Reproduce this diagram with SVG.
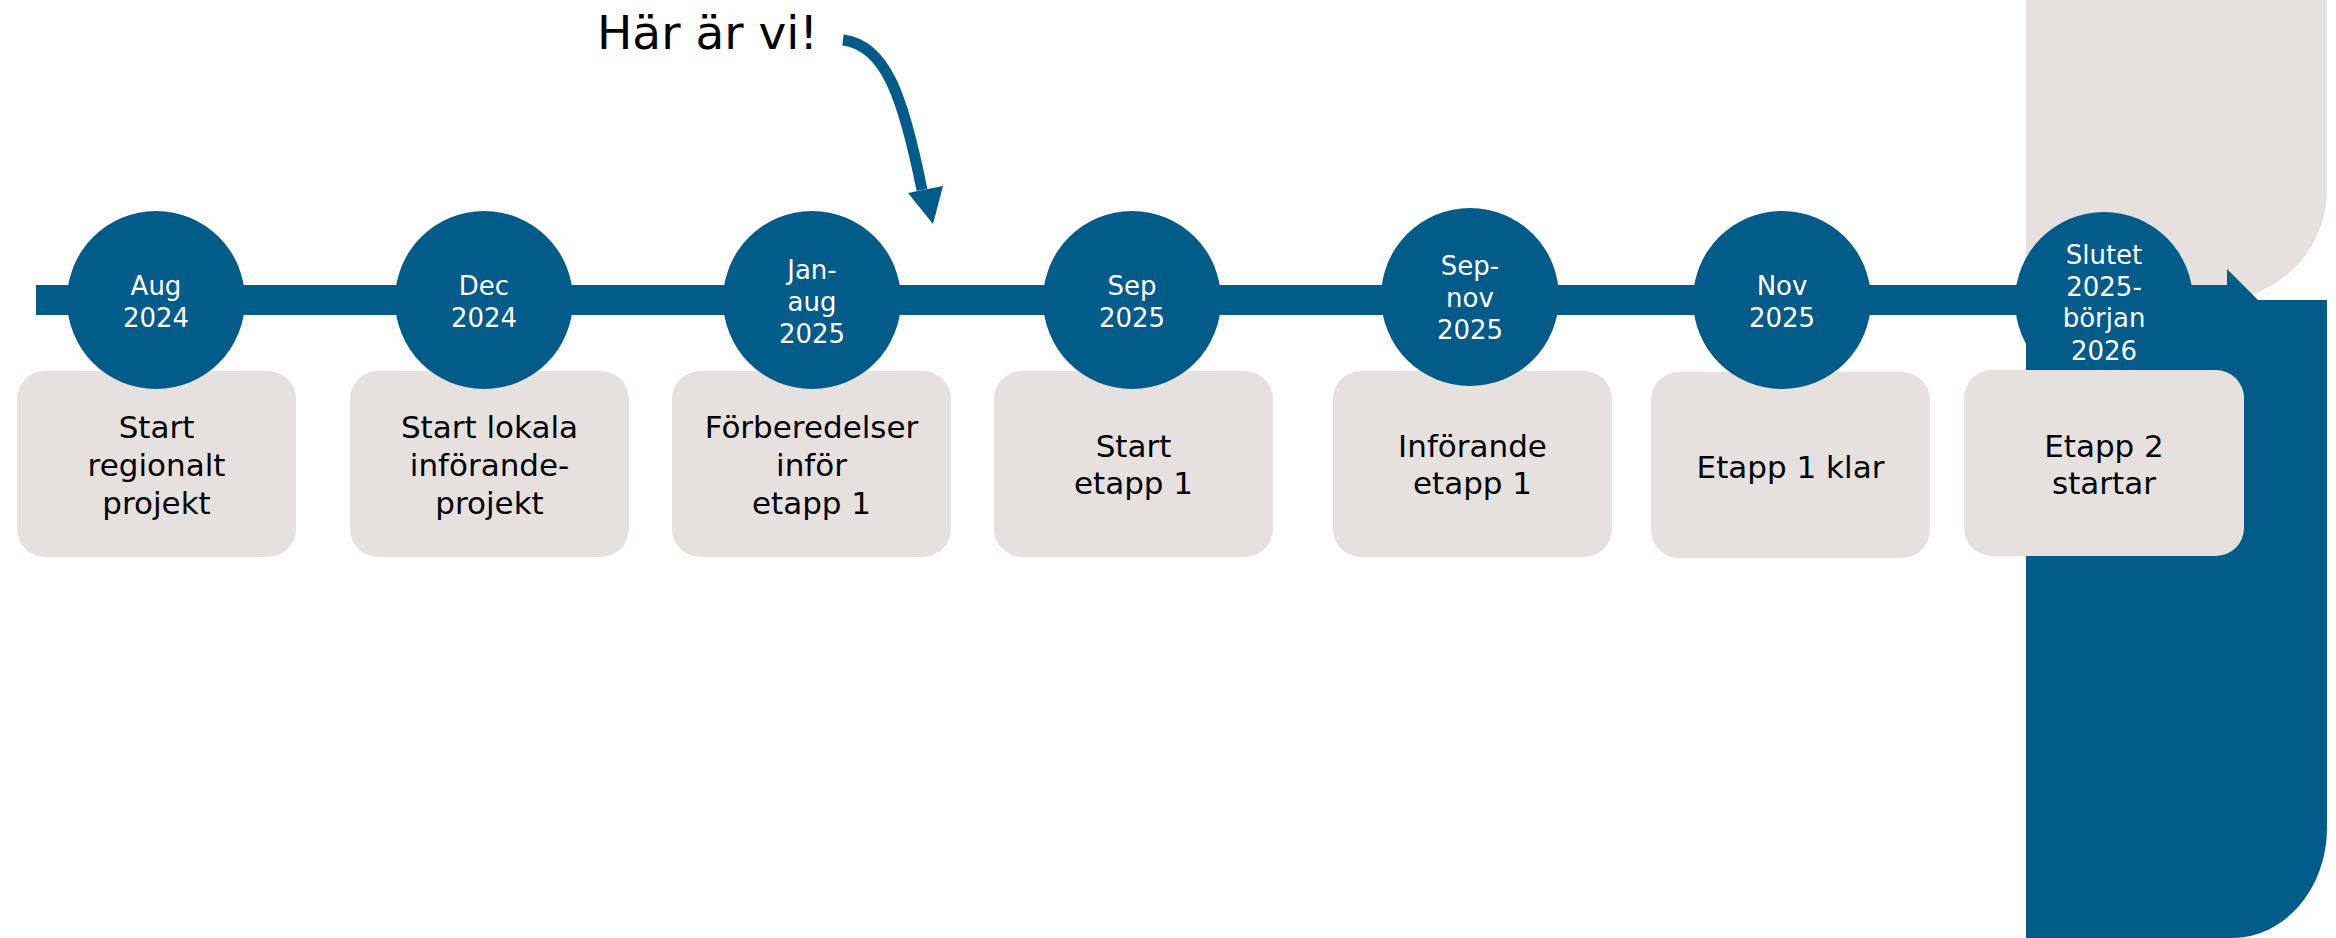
<svg xmlns="http://www.w3.org/2000/svg" width="2336" height="938" viewBox="0 0 2336 938">
<defs>
<style>
.bg{fill:#ffffff}
.blue{fill:#025B89}
.grey{fill:#E6E1DF}
.box{fill:#E6E1DF}
.dot{fill:#025B89}
.date{font-family:"DejaVu Sans","Noto Sans",sans-serif;font-size:26px;fill:#ffffff;text-anchor:middle}
.lbl{font-family:"DejaVu Sans","Noto Sans",sans-serif;font-size:31px;fill:#000000;text-anchor:middle}
.title{font-family:"DejaVu Sans","Noto Sans",sans-serif;font-size:47px;fill:#000000}
</style>
</defs>
<rect class="bg" x="0" y="0" width="2336" height="938"/>
<g id="decor">
<path class="grey" d="M2026,0 H2327 V190 A110,110 0 0 1 2217,300 H2026 Z"/>
<path class="blue" d="M2026,300 H2327 V828 A95,110 0 0 1 2232,938 H2026 Z"/>
</g>
<g id="connectors">
<rect class="blue" x="36" y="285" width="2192" height="30"/>
<polygon class="blue" points="2227,269 2258,300 2227,331"/>
<path d="M843,40 C885,45 903,95 922,190" fill="none" stroke="#025B89" stroke-width="11"/>
<polygon class="blue" points="908,193 943,186 933,224"/>
</g>
<g id="title">
<text class="title" x="597" y="49">Här är vi!</text>
</g>
<g id="node1">
<rect class="box" x="17" y="371" width="279" height="186" rx="28"/>
<text class="lbl" x="156.5" y="438">Start</text>
<text class="lbl" x="156.5" y="476">regionalt</text>
<text class="lbl" x="156.5" y="514">projekt</text>
<circle class="dot" cx="156" cy="300" r="89"/>
<text class="date" x="156" y="295">Aug</text>
<text class="date" x="156" y="327">2024</text>
</g>
<g id="node2">
<rect class="box" x="350" y="371" width="279" height="186" rx="28"/>
<text class="lbl" x="489.5" y="438">Start lokala</text>
<text class="lbl" x="489.5" y="476">införande-</text>
<text class="lbl" x="489.5" y="514">projekt</text>
<circle class="dot" cx="484" cy="300" r="89"/>
<text class="date" x="484" y="295">Dec</text>
<text class="date" x="484" y="327">2024</text>
</g>
<g id="node3">
<rect class="box" x="672" y="371" width="279" height="186" rx="28"/>
<text class="lbl" x="811.5" y="438">Förberedelser</text>
<text class="lbl" x="811.5" y="476">inför</text>
<text class="lbl" x="811.5" y="514">etapp 1</text>
<circle class="dot" cx="812" cy="300" r="89"/>
<text class="date" x="812" y="279">Jan-</text>
<text class="date" x="812" y="311">aug</text>
<text class="date" x="812" y="343">2025</text>
</g>
<g id="node4">
<rect class="box" x="994" y="371" width="279" height="186" rx="28"/>
<text class="lbl" x="1133.5" y="457">Start</text>
<text class="lbl" x="1133.5" y="494">etapp 1</text>
<circle class="dot" cx="1132" cy="300" r="89"/>
<text class="date" x="1132" y="295">Sep</text>
<text class="date" x="1132" y="327">2025</text>
</g>
<g id="node5">
<rect class="box" x="1333" y="371" width="279" height="186" rx="28"/>
<text class="lbl" x="1472.5" y="457">Införande</text>
<text class="lbl" x="1472.5" y="494">etapp 1</text>
<circle class="dot" cx="1470" cy="297" r="89"/>
<text class="date" x="1470" y="275">Sep-</text>
<text class="date" x="1470" y="307">nov</text>
<text class="date" x="1470" y="339">2025</text>
</g>
<g id="node6">
<rect class="box" x="1651" y="372" width="279" height="186" rx="28"/>
<text class="lbl" x="1790.5" y="478">Etapp 1 klar</text>
<circle class="dot" cx="1782" cy="300" r="89"/>
<text class="date" x="1782" y="295">Nov</text>
<text class="date" x="1782" y="327">2025</text>
</g>
<g id="node7">
<circle class="dot" cx="2104" cy="301" r="89"/>
<text class="date" x="2104" y="264">Slutet</text>
<text class="date" x="2104" y="296">2025-</text>
<text class="date" x="2104" y="327">början</text>
<text class="date" x="2104" y="360">2026</text>
<rect class="box" x="1964" y="370" width="280" height="186" rx="28"/>
<text class="lbl" x="2104" y="457">Etapp 2</text>
<text class="lbl" x="2104" y="494">startar</text>
</g>
</svg>
